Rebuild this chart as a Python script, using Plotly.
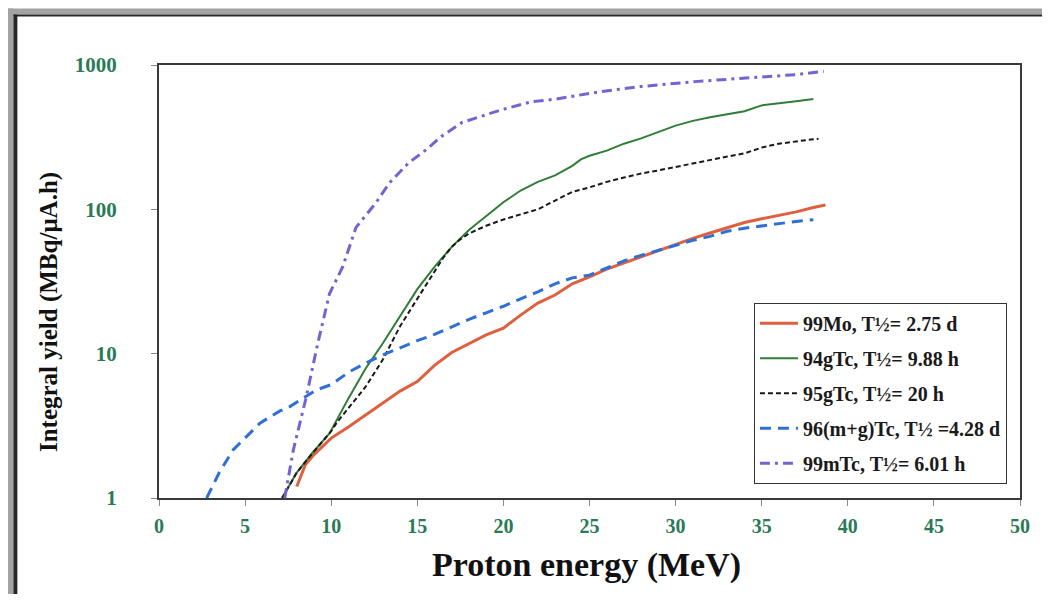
import plotly.graph_objects as go

# ---------------- data ----------------
mo_x = [8.0, 8.5, 9.0, 10.0, 11.0, 12.0, 13.0, 14.0, 15.0, 16.0, 17.0, 18.0, 19.0, 20.0,
        21.0, 22.0, 23.0, 24.0, 25.0, 26.0, 27.0, 28.0, 29.0, 30.0, 31.0, 32.0, 33.0,
        34.0, 35.0, 36.0, 37.0, 38.0, 38.7]
mo_y = [1.2, 1.7, 2.0, 2.6, 3.1, 3.75, 4.6, 5.5, 6.4, 8.3, 10.2, 11.8, 13.5, 15.0,
        18.5, 22.4, 25.5, 30.5, 34.0, 38.5, 42.5, 46.5, 51.5, 57.0, 63.0, 68.5, 74.5,
        81.0, 86.0, 91.0, 96.0, 103.0, 107.0]

tc94_x = [7.15, 8.0, 8.9, 9.9, 11.0, 12.0, 13.0, 14.0, 15.0, 16.0, 17.0, 18.0, 19.0,
          20.0, 21.0, 22.0, 23.0, 24.0, 24.5, 25.0, 26.0, 27.0, 28.0, 29.0, 30.0, 31.0,
          32.0, 33.0, 34.0, 35.0, 36.0, 37.0, 38.0]
tc94_y = [1.0, 1.5, 2.05, 2.8, 4.9, 7.9, 11.8, 18.0, 28.0, 40.0, 55.0, 72.0, 90.0,
          112.0, 135.0, 155.0, 172.0, 200.0, 222.0, 235.0, 255.0, 285.0, 310.0, 345.0,
          380.0, 410.0, 435.0, 455.0, 478.0, 525.0, 540.0, 560.0, 582.0]

tc95_x = [7.15, 8.0, 9.0, 10.0, 10.3, 11.0, 12.0, 13.0, 14.0, 15.0, 16.0, 16.5, 17.0,
          17.5, 18.0, 19.0, 20.0, 21.0, 22.0, 23.0, 24.0, 25.0, 26.0, 27.0, 28.0, 29.0,
          30.0, 31.0, 32.0, 33.0, 34.0, 35.0, 36.0, 37.0, 38.0, 38.3]
tc95_y = [1.0, 1.5, 2.1, 2.9, 3.3, 4.2, 5.9, 9.1, 15.5, 24.0, 37.0, 46.0, 55.0,
          62.0, 68.0, 77.0, 85.0, 92.0, 100.0, 115.0, 132.0, 142.0, 155.0, 166.0, 177.0,
          186.0, 197.0, 208.0, 220.0, 232.0, 244.0, 268.0, 285.0, 297.0, 306.0, 308.0]

tc96_x = [2.77, 3.5, 4.3, 5.0, 5.86, 7.0, 7.6, 9.13, 10.0, 11.06, 12.0, 13.0, 14.0, 15.0,
          16.0, 17.0, 18.0, 19.0, 20.0, 21.0, 22.0, 23.0, 24.0, 25.0, 26.0, 27.0, 28.0,
          29.0, 30.0, 31.0, 32.0, 33.0, 34.0, 35.0, 36.0, 37.0, 38.0]
tc96_y = [1.0, 1.5, 2.15, 2.6, 3.3, 4.0, 4.3, 5.6, 6.1, 7.5, 8.6, 9.8, 11.0, 12.3,
          13.6, 15.4, 17.3, 19.2, 21.3, 24.0, 26.8, 30.5, 33.5, 35.0, 39.0, 44.0, 48.0,
          52.0, 56.5, 61.0, 65.0, 70.5, 74.0, 77.0, 80.0, 82.5, 84.7]

tc99m_x = [7.3, 7.8, 8.55, 9.2, 9.9, 10.67, 11.44, 12.0, 12.6, 13.37, 14.5, 15.5, 16.4,
           17.6, 18.75, 19.9, 21.6, 23.0, 25.5, 28.0, 31.3, 34.0, 37.0, 38.6]
tc99m_y = [1.0, 2.15, 5.0, 11.5, 26.0, 40.0, 75.0, 91.0, 111.0, 152.0, 210.0, 258.0, 320.0,
           400.0, 440.0, 490.0, 555.0, 580.0, 650.0, 710.0, 770.0, 810.0, 858.0, 904.0]

names = ["99Mo, T½= 2.75 d", "94gTc, T½= 9.88 h", "95gTc, T½= 20 h",
         "96(m+g)Tc, T½ =4.28 d", "99mTc, T½= 6.01 h"]

x_ticks = [0, 5, 10, 15, 20, 25, 30, 35, 40, 45, 50]
y_ticks = [1, 10, 100, 1000]
y_ticktext = ["1", "10", "100", "1000"]

# ---------------- figure ----------------
SERIF = "Liberation Serif"
GREEN_TXT = "#2a7a55"

fig = go.Figure()
series = [
    (mo_x, mo_y, dict(color="#df603f", width=3, dash="solid")),
    (tc94_x, tc94_y, dict(color="#2f7d37", width=2, dash="solid")),
    (tc95_x, tc95_y, dict(color="#1a1a1a", width=2, dash="5px,3px")),
    (tc96_x, tc96_y, dict(color="#2f6fd6", width=3, dash="11px,7px")),
    (tc99m_x, tc99m_y, dict(color="#7663d2", width=3, dash="10px,5px,3px,5px")),
]
for i, ((xs, ys, ln), nm) in enumerate(zip(series, names)):
    fig.add_trace(go.Scatter(x=xs, y=ys, mode="lines", name=nm, line=ln,
                             legendgroup=f"g{i}"))

fig.update_xaxes(range=[0, 50], tickvals=x_ticks, ticks="outside", ticklen=6,
                 tickcolor="#888", showline=True, linecolor="#3a3a3a", linewidth=2,
                 mirror=True, showgrid=False, zeroline=False,
                 tickfont=dict(family=SERIF, size=20, color=GREEN_TXT, weight="bold"),
                 ticklabelstandoff=3)
fig.update_yaxes(type="log", range=[0, 3], tickvals=y_ticks, ticktext=y_ticktext,
                 ticks="outside", ticklen=6, tickcolor="#888", showline=True,
                 linecolor="#3a3a3a", linewidth=2, mirror=True, showgrid=False,
                 zeroline=False,
                 tickfont=dict(family=SERIF, size=21, color=GREEN_TXT, weight="bold"),
                 ticklabelstandoff=30)

fig.add_annotation(text="Proton energy (MeV)", xref="paper", yref="paper",
                   x=0.4965, y=-0.155, showarrow=False, xanchor="center", yanchor="middle",
                   font=dict(family=SERIF, size=34, color="#111", weight="bold"))
fig.add_annotation(text="Integral yield (MBq/μA.h)", xref="paper", yref="paper",
                   x=-0.128, y=0.429, showarrow=False, textangle=-90,
                   xanchor="center", yanchor="middle",
                   font=dict(family=SERIF, size=25, color="#111", weight="bold"))

# outer page frame (gray band + dark line) at top and left
shapes = [
    dict(type="rect", xref="paper", yref="paper", x0=-0.19, x1=1.04, y0=1.1168, y1=1.1306,
         fillcolor="#a3a3a3", line=dict(width=0), layer="above"),
    dict(type="rect", xref="paper", yref="paper", x0=-0.1691, x1=1.04, y0=1.1121, y1=1.1168,
         fillcolor="#262626", line=dict(width=0), layer="above"),
    dict(type="rect", xref="paper", yref="paper", x0=-0.1757, x1=-0.1691, y0=-0.26, y1=1.1306,
         fillcolor="#a3a3a3", line=dict(width=0), layer="above"),
    dict(type="rect", xref="paper", yref="paper", x0=-0.1691, x1=-0.1645, y0=-0.26, y1=1.1168,
         fillcolor="#262626", line=dict(width=0), layer="above"),
]

# the page body adds an 8px margin, so the figure is 16px smaller than the window
fig.update_layout(
    width=1034, height=586,
    margin=dict(l=151, r=18, t=57, b=96),
    paper_bgcolor="white", plot_bgcolor="white",
    shapes=shapes,
    showlegend=True,
    legend=dict(x=0.691, y=0.4509, xanchor="left", yanchor="top",
                bordercolor="#333", borderwidth=1, bgcolor="white",
                tracegroupgap=6, itemwidth=38,
                font=dict(family=SERIF, size=20, color="#1a1a1a", weight="bold")),
)

fig.write_html("out.html")
